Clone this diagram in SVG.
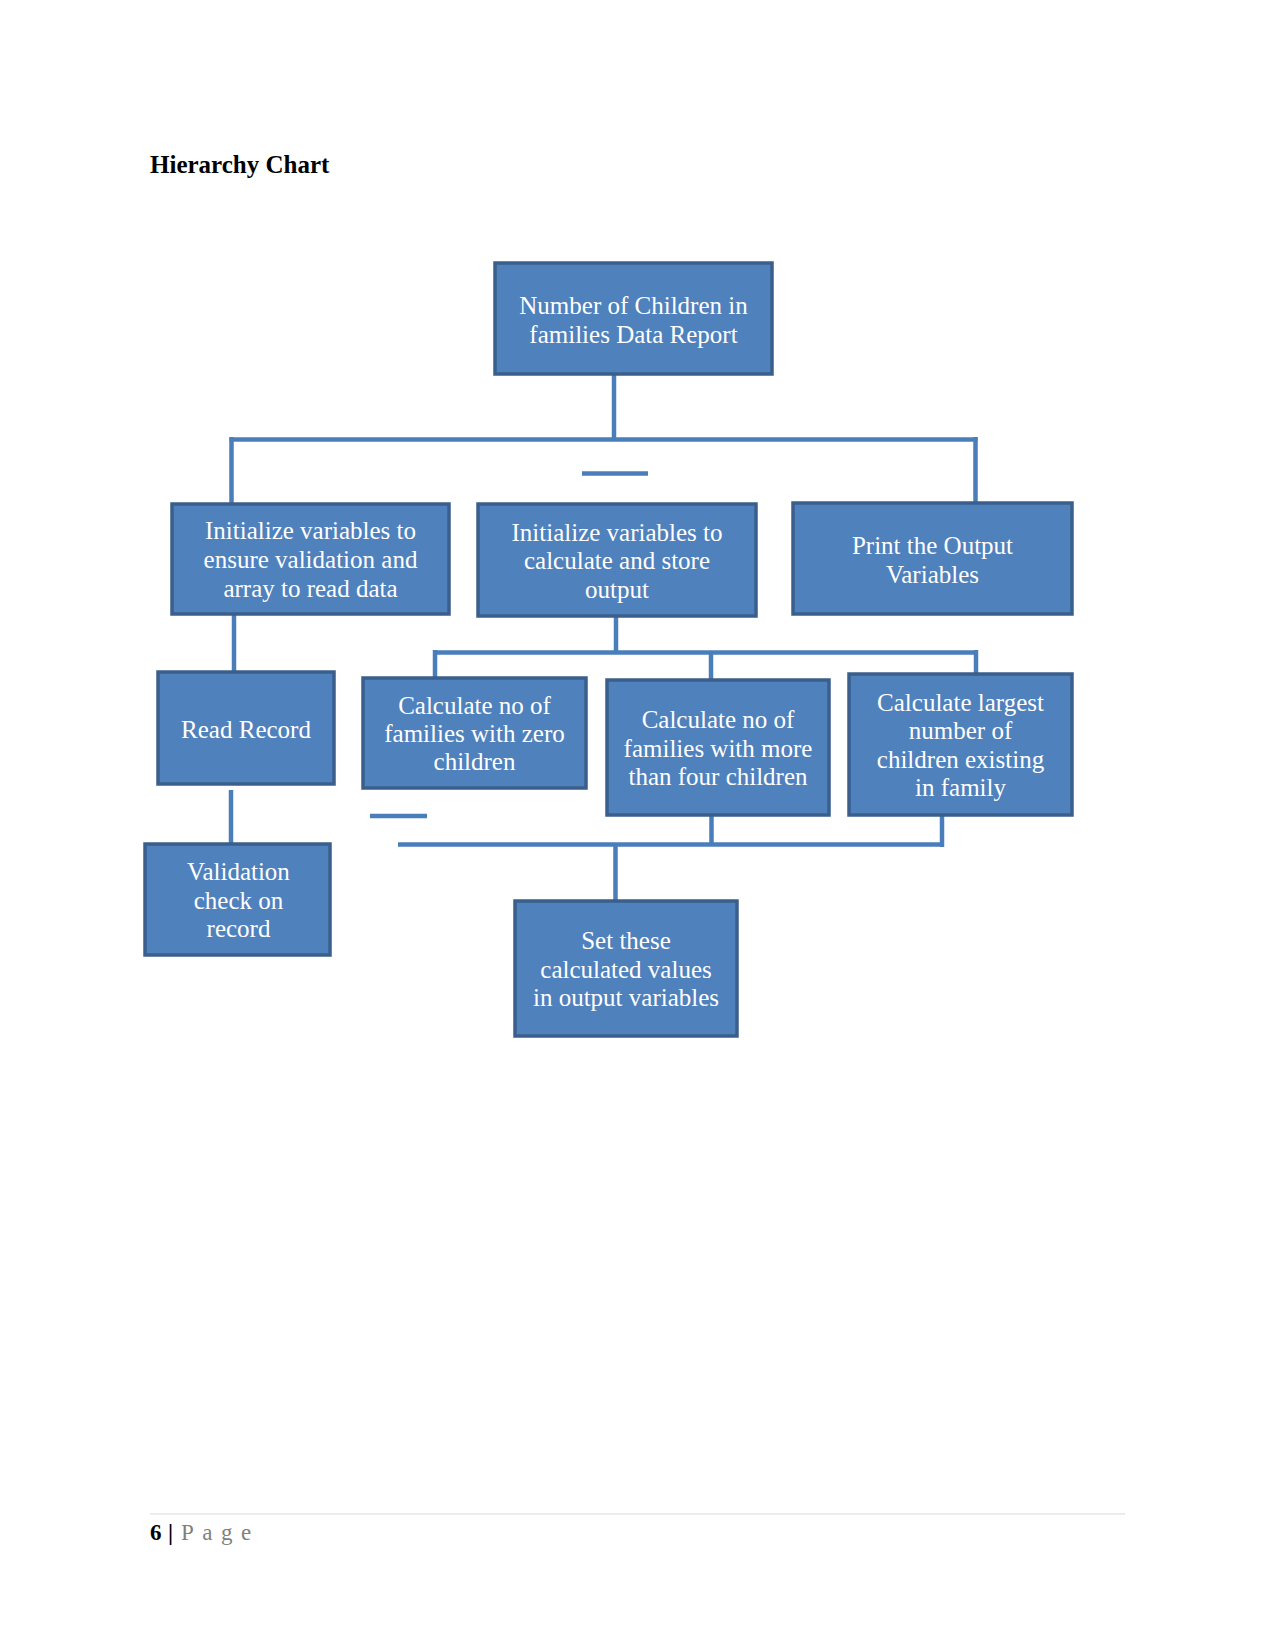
<svg xmlns="http://www.w3.org/2000/svg" width="1275" height="1651" viewBox="0 0 1275 1651">
<style>
.box{fill:#4F81BD;stroke:#3A5F8C;stroke-width:3.5}
.lbl{font-family:"Liberation Serif","Times New Roman",serif;font-size:25px;fill:#FFFFFF;text-anchor:middle}
.con{stroke:#4A7EBB;stroke-width:4.5;fill:none}
.title{font-family:"Liberation Serif","Times New Roman",serif;font-size:25px;font-weight:bold;fill:#000}
.foot{font-family:"Liberation Serif","Times New Roman",serif;font-size:23px}
</style>
<rect width="1275" height="1651" fill="#FFFFFF"/>
<text class="title" x="150" y="173">Hierarchy Chart</text>

<g id="connectors">
<path class="con" d="M614 374 V440"/>
<path class="con" d="M229.5 439.5 H977.5" stroke-width="5"/>
<path class="con" d="M231.5 437 V504"/>
<path class="con" d="M975.5 437 V503"/>
<path class="con" d="M582 473.5 H648"/>
<path class="con" d="M234 614 V672"/>
<path class="con" d="M231 790 V844"/>
<path class="con" d="M616 616 V652"/>
<path class="con" d="M433 652.5 H978" stroke-width="5"/>
<path class="con" d="M435 650 V678"/>
<path class="con" d="M711 652.5 V680"/>
<path class="con" d="M976 650 V674"/>
<path class="con" d="M370 816 H427"/>
<path class="con" d="M711.5 815 V845"/>
<path class="con" d="M942 815 V847"/>
<path class="con" d="M398 844.5 H944" stroke-width="5.5"/>
<path class="con" d="M615.5 844.5 V901"/>
</g>

<g id="root">
<rect class="box" x="495" y="263" width="277" height="111"/>
<text class="lbl" x="633.5" y="314">Number of Children in</text>
<text class="lbl" x="633.5" y="343">families Data Report</text>
</g>
<g id="init-validation">
<rect class="box" x="172" y="504" width="277" height="110"/>
<text class="lbl" x="310.5" y="539">Initialize variables to</text>
<text class="lbl" x="310.5" y="568">ensure validation and</text>
<text class="lbl" x="310.5" y="597">array to read data</text>
</g>
<g id="init-calc">
<rect class="box" x="478" y="504" width="278" height="112"/>
<text class="lbl" x="617" y="541">Initialize variables to</text>
<text class="lbl" x="617" y="569">calculate and store</text>
<text class="lbl" x="617" y="598">output</text>
</g>
<g id="print-output">
<rect class="box" x="793" y="503" width="279" height="111"/>
<text class="lbl" x="932.5" y="554">Print the Output</text>
<text class="lbl" x="932.5" y="583">Variables</text>
</g>
<g id="read-record">
<rect class="box" x="158" y="672" width="176" height="112"/>
<text class="lbl" x="246" y="738">Read Record</text>
</g>
<g id="zero-children">
<rect class="box" x="363" y="678" width="223" height="110"/>
<text class="lbl" x="474.5" y="714">Calculate no of</text>
<text class="lbl" x="474.5" y="742">families with zero</text>
<text class="lbl" x="474.5" y="770">children</text>
</g>
<g id="more-four">
<rect class="box" x="607" y="680" width="222" height="135"/>
<text class="lbl" x="718" y="728">Calculate no of</text>
<text class="lbl" x="718" y="757">families with more</text>
<text class="lbl" x="718" y="785">than four children</text>
</g>
<g id="largest">
<rect class="box" x="849" y="674" width="223" height="141"/>
<text class="lbl" x="960.5" y="711">Calculate largest</text>
<text class="lbl" x="960.5" y="739">number of</text>
<text class="lbl" x="960.5" y="768">children existing</text>
<text class="lbl" x="960.5" y="796">in family</text>
</g>
<g id="validation">
<rect class="box" x="145" y="844" width="185" height="111"/>
<text class="lbl" x="238.5" y="880">Validation</text>
<text class="lbl" x="238.5" y="909">check on</text>
<text class="lbl" x="238.5" y="937">record</text>
</g>
<g id="set-values">
<rect class="box" x="515" y="901" width="222" height="135"/>
<text class="lbl" x="626" y="949">Set these</text>
<text class="lbl" x="626" y="978">calculated values</text>
<text class="lbl" x="626" y="1006">in output variables</text>
</g>

<line x1="150" y1="1514" x2="1125" y2="1514" stroke="#D9D9D9" stroke-width="1.2"/>
<text class="foot" y="1540"><tspan x="150" font-weight="bold" fill="#000">6</tspan><tspan x="168" fill="#000" font-weight="bold">|</tspan><tspan x="181" fill="#7F7F7F" letter-spacing="8.5">Page</tspan></text>
</svg>
